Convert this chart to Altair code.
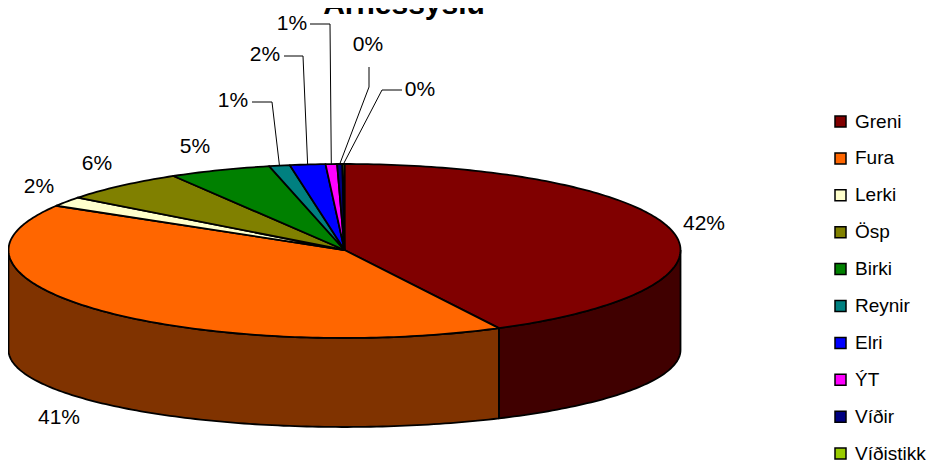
import math
import altair as alt
import pandas as pd

# ---------------- data ----------------
species = ["Greni", "Fura", "Lerki", "Ösp", "Birki", "Reynir", "Elri", "ÝT", "Víðir", "Víðistikk"]
share = [42.4, 41.2, 1.8, 6.1, 4.9, 1.0, 1.7, 0.55, 0.25, 0.1]
title_text = "Árnessýslu"

# ---------------- style ----------------
top_colors = ["#800000", "#FF6600", "#FFFFCC", "#808000", "#008000",
              "#008080", "#0000FF", "#FF00FF", "#000080", "#99CC00"]
side_colors = ["#400000", "#803300", "#80806A", "#404000", "#004000",
               "#004040", "#000080", "#800080", "#000040", "#4D6600"]
FONT = "Liberation Sans"
FS = 21

# ellipse geometry (page pixels)
CX, CY, RX = 344.5, 250.0, 336.0
RY_BACK, RY_FRONT = 86.0, 88.0
BCY, BRY = 350.0, 77.0

# label placement (page pixels) and leader-line bends
label_pos = {
    "Greni": (704, 224), "Fura": (59, 418), "Lerki": (39, 187), "Ösp": (97, 164),
    "Birki": (195, 147), "Reynir": (233, 101), "Elri": (265, 55), "ÝT": (292, 24),
    "Víðir": (368, 45), "Víðistikk": (420, 90),
}
leader_bends = {
    "Reynir": [(252, 102), (272, 102)],
    "Elri": [(284, 56), (303, 56)],
    "ÝT": [(310, 24), (330, 24)],
    "Víðir": [(369, 67), (369, 87)],
    "Víðistikk": [(402, 90), (382, 90)],
}


def top_xy(t):
    r = math.radians(t)
    s, c = math.sin(r), math.cos(r)
    ry = RY_BACK if c >= 0 else RY_FRONT
    return CX + RX * s, CY - ry * c


def bot_xy(t):
    r = math.radians(t)
    return CX + RX * math.sin(r), BCY - BRY * math.cos(r)


def arc(a, b):
    n = max(2, int(math.ceil(b - a)) + 1)
    return [a + (b - a) * k / (n - 1) for k in range(n)]


total = sum(share)
starts, ends = [], []
acc = 0.0
for v in share:
    starts.append(acc / total * 360)
    acc += v
    ends.append(acc / total * 360)

top_rows, side_rows = [], []
for i, name in enumerate(species):
    a, b = starts[i], ends[i]
    pts = [(CX, CY)] + [top_xy(t) for t in arc(a, b)] + [(CX, CY)]
    for k, (x, y) in enumerate(pts):
        top_rows.append({"id": name, "o": k, "x": x, "y": y, "species": name})
    lo, hi = max(a, 90.0), min(b, 270.0)
    if lo < hi:
        ang = arc(lo, hi)
        spts = [top_xy(t) for t in ang] + [bot_xy(t) for t in reversed(ang)]
        spts.append(spts[0])
        for k, (x, y) in enumerate(spts):
            side_rows.append({"id": name, "o": k, "x": x, "y": y, "c": side_colors[i]})

top_df = pd.DataFrame(top_rows)
side_df = pd.DataFrame(side_rows)

label_rows = []
for i, name in enumerate(species):
    pct = math.floor(share[i] / total * 100 + 0.5)
    lx, ly = label_pos[name]
    label_rows.append({"x": lx, "y": ly, "t": f"{pct}%"})
label_df = pd.DataFrame(label_rows)

lead_rows = []
for i, name in enumerate(species):
    if name in leader_bends:
        mid = (starts[i] + ends[i]) / 2
        pts = leader_bends[name] + [top_xy(mid)]
        for k, (x, y) in enumerate(pts):
            lead_rows.append({"id": name, "o": k, "x": x, "y": y})
lead_df = pd.DataFrame(lead_rows)

title_df = pd.DataFrame([{"x": 404, "y": 14, "t": title_text}])

W, H = 922, 459
xs = alt.Scale(domain=[8, 8 + W], nice=False, zero=False)
ys = alt.Scale(domain=[8, 8 + H], nice=False, zero=False, reverse=True)
X = alt.X("x:Q", scale=xs, axis=None)
Y = alt.Y("y:Q", scale=ys, axis=None)

sides = alt.Chart(side_df).mark_line(
    stroke="black", strokeWidth=1.8, strokeJoin="round"
).encode(x=X, y=Y, order="o:Q", detail="id:N", fill=alt.Fill("c:N", scale=None))

tops = alt.Chart(top_df).mark_line(
    stroke="black", strokeWidth=1.8, strokeJoin="round"
).encode(
    x=X, y=Y, order="o:Q", detail="id:N",
    fill=alt.Fill(
        "species:N",
        scale=alt.Scale(domain=species, range=top_colors),
        legend=alt.Legend(
            title=None, orient="none", legendX=823, legendY=104,
            symbolType="square", symbolSize=121, symbolStrokeColor="black",
            symbolStrokeWidth=1.5, symbolOpacity=1, labelFont=FONT, labelFontSize=19,
            labelColor="black", labelOffset=5, rowPadding=16.9, padding=0,
        ),
    ),
)

leaders = alt.Chart(lead_df).mark_line(color="black", strokeWidth=1).encode(
    x=X, y=Y, order="o:Q", detail="id:N"
)

labels = alt.Chart(label_df).mark_text(
    font=FONT, fontSize=FS, color="black", align="center", baseline="middle"
).encode(x=X, y=Y, text="t:N")

title = alt.Chart(title_df).mark_text(
    font=FONT, fontSize=30, fontWeight="bold", color="black", align="center",
    baseline="alphabetic"
).encode(x=X, y=Y, text="t:N")

chart = alt.layer(sides, tops, leaders, labels, title).properties(
    width=W, height=H, padding=0, autosize="none"
).configure_view(stroke=None)

chart.save("out.html", embed_options={"renderer": "svg", "actions": False})
